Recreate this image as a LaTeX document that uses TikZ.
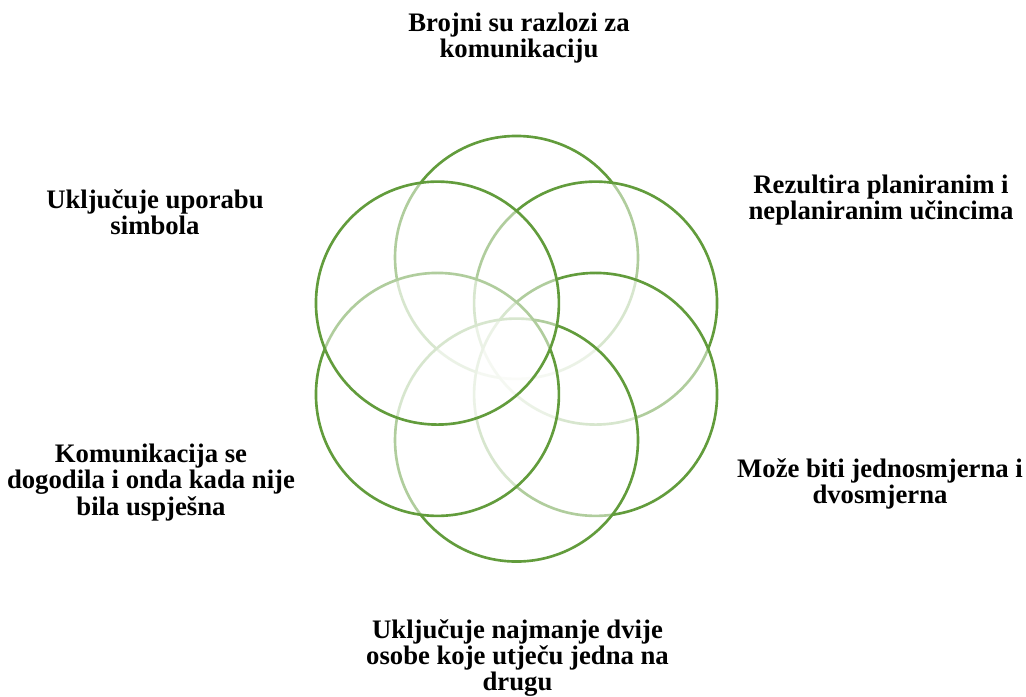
\documentclass[tikz,border=0pt]{standalone}
\usepackage{fontspec}
\setmainfont{Liberation Serif}
\usetikzlibrary{calc}
\definecolor{ringgreen}{RGB}{98,156,60}

\begin{document}
\begin{tikzpicture}[x=0.02cm, y=-0.02cm,
  ring/.style={draw=ringgreen, line width=1.5pt, fill=white, fill opacity=0.5},
  lbl/.style={align=center, inner sep=0pt, font=\fontsize{15.2}{13}\selectfont\bfseries}]
\path[use as bounding box] (0,0) rectangle (1026,696);
\coordinate (mid) at (516.5,348.75);
% rings, drawn top first, clockwise
\foreach \a/\n in {-90/top,-30/ur,30/lr,90/bot,150/ll,210/ul}{
  \coordinate (c-\n) at ($(mid)+(\a:91.3)$);
  \draw[ring] (c-\n) circle[radius=2.43cm];
}
\node[lbl] (t-top) at (519,38.5) {Brojni su razlozi za\\komunikaciju};
\node[lbl] (t-ur) at (881,200) {Rezultira planiranim i\\neplaniranim učincima};
\node[lbl] (t-lr) at (880,484) {Može biti jednosmjerna i\\dvosmjerna};
\node[lbl] (t-bot) at (517.5,657.7) {Uključuje najmanje dvije\\osobe koje utječu jedna na\\drugu};
\node[lbl] (t-ll) at (151,482.7) {Komunikacija se\\dogodila i onda kada nije\\bila uspješna};
\node[lbl] (t-ul) at (155,212.5) {Uključuje uporabu\\simbola};
\end{tikzpicture}
\end{document}
